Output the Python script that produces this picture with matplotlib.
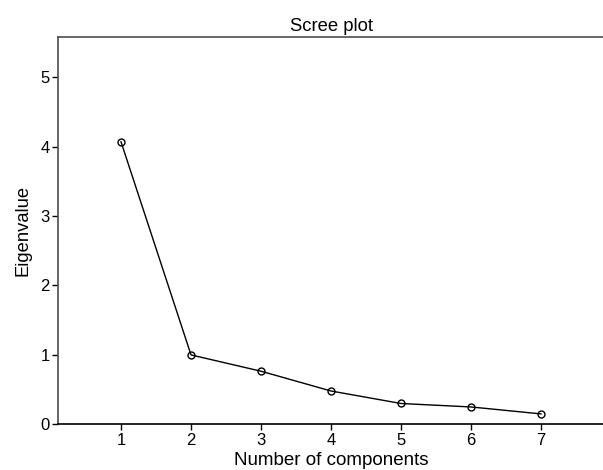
import numpy as np
import matplotlib
matplotlib.use("Agg")
import matplotlib.pyplot as plt

plt.rcParams['font.family'] = ['Liberation Sans', 'DejaVu Sans']

# Eigenvalues
components = [1, 2, 3, 4, 5, 6, 7]
eigenvalues = [4.07, 1.00, 0.765, 0.48, 0.30, 0.25, 0.15]
y_ticks = [0, 1, 2, 3, 4, 5]

fig = plt.figure(figsize=(6.03, 4.70), dpi=100)
ax = fig.add_axes([0.0962, 0.0972, 0.9055, 0.8241])

ax.plot(components, eigenvalues, "-o", color="black", linewidth=1.0,
        markersize=5, markerfacecolor="none", markeredgewidth=1.0)

ax.set_xlim(0.1, 7.9)
ax.set_ylim(0, 5.58)
ax.set_xticks(components)
ax.set_yticks(y_ticks)

ax.set_title("Scree plot", fontsize=13.3, pad=4)
ax.set_xlabel("Number of components", fontsize=13.5, labelpad=3)
ax.set_ylabel("Eigenvalue", fontsize=13.2, labelpad=6)

ax.spines["right"].set_visible(False)
ax.spines["left"].set_color("#4d4d4d")
ax.spines["top"].set_color("#4d4d4d")
ax.spines["bottom"].set_color("black")
for s in ax.spines.values():
    s.set_linewidth(1.2)
ax.tick_params(axis="both", labelsize=12, length=4, width=1.0, direction="out", pad=2)

plt.savefig("out.png", dpi=100)
